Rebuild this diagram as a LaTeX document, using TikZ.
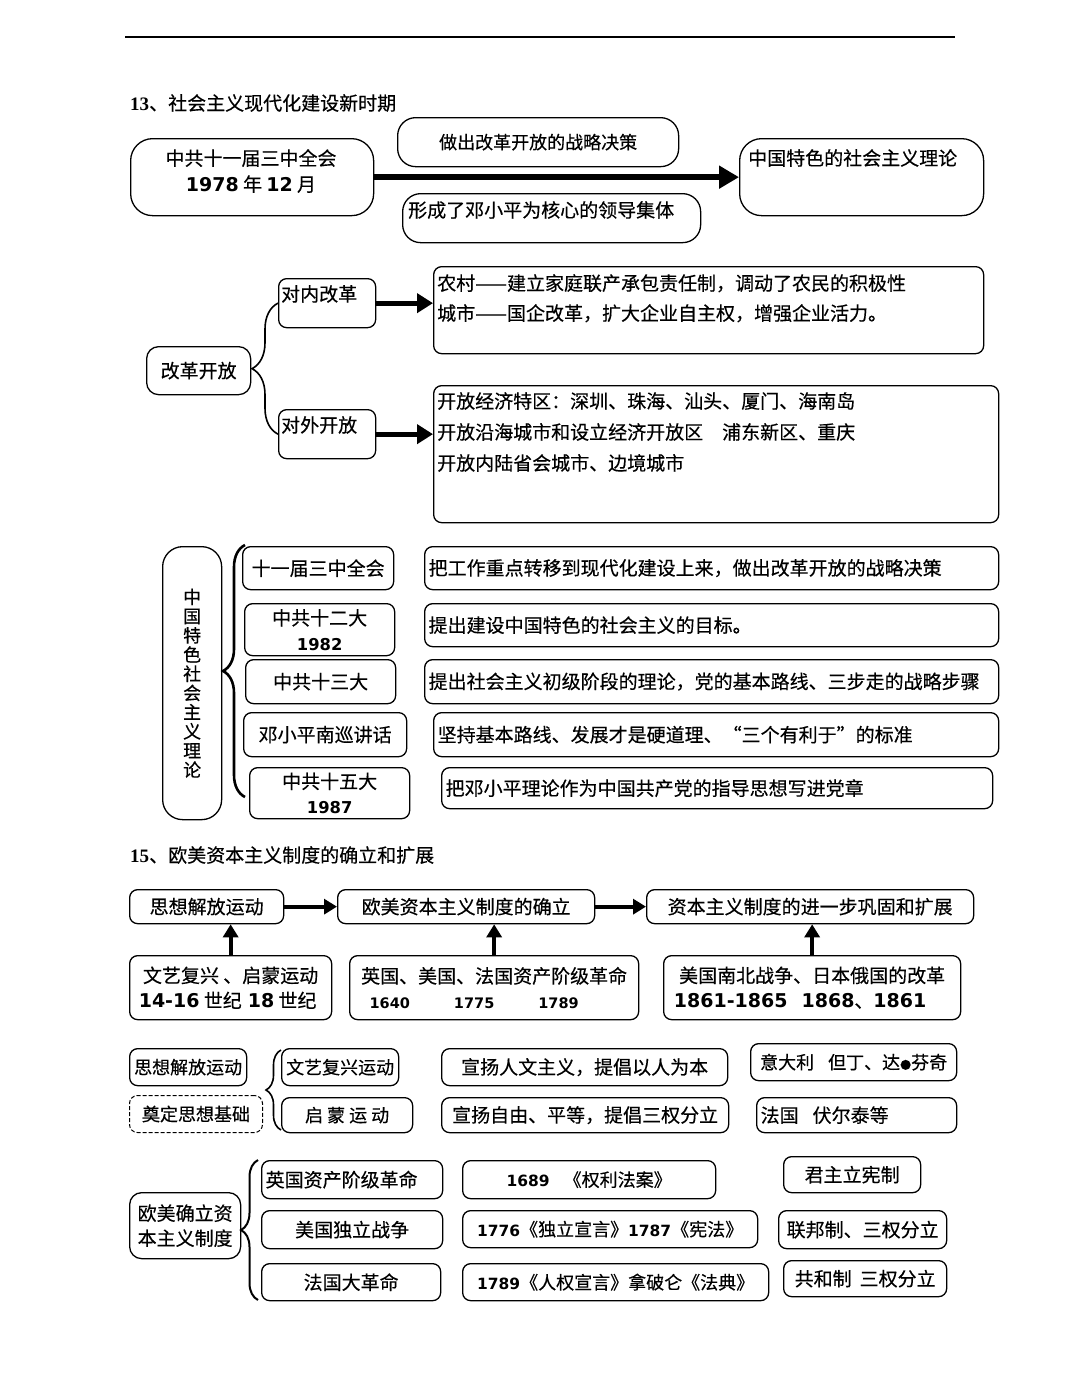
\documentclass[tikz,border=0pt]{standalone}
\usepackage{fontspec}
\setmainfont{Noto Sans CJK SC}[FakeBold=0.35]
\newfontfamily\numfont{DejaVu Sans}
\newfontfamily\numfonts{DejaVu Sans}[Scale=0.86]
\newfontfamily\serifnum{Liberation Serif}
\usetikzlibrary{arrows.meta,decorations.pathreplacing}

\newcommand\zh{\fontsize{19}{23}\selectfont}
\newcommand\zhs{\fontsize{18}{22}\selectfont}
\newcommand\nb[1]{{\numfont\bfseries #1}}
\newcommand\nbs[1]{{\numfonts\bfseries #1}}

\tikzset{
  card/.style={draw, line width=1.3pt, rounded corners=8pt, inner xsep=4pt, inner ysep=0pt,
    anchor=north west, font=\zh, align=center},
  sz/.style 2 args={minimum width=#1pt, minimum height=#2pt},
  lsz/.style 2 args={text width=#1pt, minimum height=#2pt, align=left},
  txt/.style={inner sep=0pt, anchor=north west, font=\zh, align=left},
  bigarr/.style={line width=6pt, -{Triangle[length=20pt,width=22pt]}},
  midarr/.style={line width=5pt, -{Triangle[length=16pt,width=19pt]}},
  smallarr/.style={line width=4pt, -{Triangle[length=13pt,width=15pt]}},
  curly/.style 2 args={decorate, decoration={brace, amplitude=#1pt}, line width=#2pt},
}

\begin{document}
\begin{tikzpicture}[x=1pt,y=-1pt]
  \useasboundingbox (0,0) rectangle (1080,1392);
  \fill[white] (0,0) rectangle (1080,1392);
  \draw[line width=1.2pt] (125,37) -- (955,37);

  % 13
  \node[txt] (t13) at (130,94) {{\serifnum\bfseries 13}、社会主义现代化建设新时期};
  \node[card, rounded corners=22pt, sz={243}{77}] (hy) at (130,138) {};
  \node[txt, anchor=north, align=center, font=\fontsize{19}{26}\selectfont] (hytxt) at (251,149) {中共十一届三中全会\\\nb{1978} 年 \nb{12} 月};
  \node[card, rounded corners=18pt, sz={281}{49}, font=\zhs] (jc) at (397,117) {做出改革开放的战略决策};
  \node[card, rounded corners=18pt, sz={298}{49}] (jt) at (402,193) {};
  \node[txt] (jttxt) at (408,201) {形成了邓小平为核心的领导集体};
  \node[card, rounded corners=22pt, sz={244}{77}] (ll) at (739,138) {};
  \node[txt] (lltxt) at (748,149) {中国特色的社会主义理论};
  \draw[bigarr] (hy.east) -- (ll.west);

  % reform and opening
  \node[card, rounded corners=12pt, sz={104}{48}] (gk) at (146,346) {改革开放};
  \node[card, sz={97}{49}] (dn) at (278,278) {};
  \node[txt] (dntxt) at (281,285) {对内改革};
  \node[card, sz={97}{49}] (dw) at (278,409) {};
  \node[txt] (dwtxt) at (281,416) {对外开放};
  \draw[curly={26}{1.6}] (dw.west) -- (dn.west);

  \node[card, sz={550}{87}] (bg1) at (433,266) {};
  \node[txt, font=\fontsize{19}{30}\selectfont] (bg1txt) at (437,274)
    {农村——建立家庭联产承包责任制，调动了农民的积极性\\城市——国企改革，扩大企业自主权，增强企业活力。};
  \node[card, sz={565}{137}] (bg2) at (433,385) {};
  \node[txt, font=\fontsize{19}{31}\selectfont] (bg2txt) at (437,392)
    {开放经济特区：深圳、珠海、汕头、厦门、海南岛\\开放沿海城市和设立经济开放区\quad 浦东新区、重庆\\开放内陆省会城市、边境城市};
  \draw[midarr] (dn.east) -- (dn.east -| bg1.west);
  \draw[midarr] (dw.east) -- (dw.east -| bg2.west);

  % theory
  \node[card, rounded corners=20pt, sz={59}{273}, font=\fontsize{18}{19.2}\selectfont] (vt) at (162,546)
    {中\\国\\特\\色\\社\\会\\主\\义\\理\\论};
  \coordinate (vttop) at (245,545);
  \coordinate (vtbot) at (245,797);
  \draw[curly={22}{2.6}] (vtbot) -- (vttop);

  \node[card, sz={151}{43}] (z1) at (242,546) {十一届三中全会};
  \node[card, sz={150}{52}, font=\fontsize{19}{25}\selectfont] (z2) at (244,603) {中共十二大\\{\numfonts\bfseries 1982}};
  \node[card, sz={150}{44}] (z3) at (245,659) {中共十三大};
  \node[card, sz={163}{44}] (z4) at (243,712) {邓小平南巡讲话};
  \node[card, sz={160}{51}, font=\fontsize{19}{25}\selectfont] (z5) at (249,767) {中共十五大\\{\numfonts\bfseries 1987}};

  \node[card, lsz={566}{43}] (r1) at (424,546) {把工作重点转移到现代化建设上来，做出改革开放的战略决策};
  \node[card, lsz={566}{43}] (r2) at (424,603) {提出建设中国特色的社会主义的目标。};
  \node[card, lsz={566}{44}] (r3) at (424,659) {提出社会主义初级阶段的理论，党的基本路线、三步走的战略步骤};
  \node[card, lsz={557}{44}] (r4) at (433,712) {坚持基本路线、发展才是硬道理、“三个有利于”的标准};
  \node[card, lsz={543}{41}] (r5) at (441,767) {把邓小平理论作为中国共产党的指导思想写进党章};

  % 15
  \node[txt] (t15) at (130,846) {{\serifnum\bfseries 15}、欧美资本主义制度的确立和扩展};
  \node[card, sz={154}{34}] (b1) at (129,889) {思想解放运动};
  \node[card, sz={257}{34}] (b2) at (337,889) {欧美资本主义制度的确立};
  \node[card, sz={327}{34}] (b3) at (646,889) {资本主义制度的进一步巩固和扩展};
  \draw[smallarr] (b1.east) -- (b2.west);
  \draw[smallarr] (b2.east) -- (b3.west);

  \node[card, sz={202}{64}, font=\fontsize{19}{25}\selectfont] (c1) at (129,955)
    {文艺复兴 、启蒙运动\\\nb{14-16} 世纪\hspace{6pt}\nb{18} 世纪\hspace*{6pt}};
  \node[card, sz={289}{64}, font=\fontsize{19}{25}\selectfont] (c2) at (349,955)
    {英国、美国、法国资产阶级革命\\{\fontsize{14.5}{20}\selectfont\nb{1640}\hspace{44pt}\nb{1775}\hspace{44pt}\nb{1789}\hspace*{40pt}}};
  \node[card, sz={297}{64}, font=\fontsize{19}{25}\selectfont] (c3) at (663,955)
    {美国南北战争、日本俄国的改革\\\nb{1861-1865}\hspace{14pt}\nb{1868}、\nb{1861}\hspace*{24pt}};
  \draw[smallarr] (c1.north) -- (c1.north |- b1.south);
  \draw[smallarr] (c2.north) -- (c2.north |- b2.south);
  \draw[smallarr] (c3.north) -- (c3.north |- b3.south);

  \node[card, sz={117}{37}, font=\zhs, inner xsep=2pt] (d1) at (129,1048) {思想解放运动};
  \node[card, sz={133}{37}, font=\zhs, line width=1pt, dash pattern=on 4pt off 2pt] (d2) at (129,1095) {奠定思想基础};
  \coordinate (dtop) at (281,1050);
  \coordinate (dbot) at (281,1130);
  \draw[curly={15}{1.6}] (dbot) -- (dtop);
  \node[card, sz={117}{37}, font=\zhs, inner xsep=2pt] (e1) at (281,1048) {文艺复兴运动};
  \node[card, sz={131}{35}, font=\zhs] (e2) at (281,1097) {启 蒙 运 动};
  \node[card, sz={286}{37}] (f1) at (441,1048) {宣扬人文主义，提倡以人为本};
  \node[card, sz={287}{35}] (f2) at (441,1097) {宣扬自由、平等，提倡三权分立};
  \node[card, sz={206}{37}, font=\zhs, inner xsep=3pt] (g1) at (750,1043)
    {意大利\hspace{14pt}但丁、达{\fontsize{11}{11}\selectfont ●}芬奇};
  \node[card, lsz={192}{35}] (g2) at (756,1097) {法国\hspace{14pt}伏尔泰等};

  % bottom
  \node[card, rounded corners=12pt, sz={111}{66}, font=\fontsize{19}{25}\selectfont] (h) at (129,1192) {欧美确立资\\本主义制度};
  \coordinate (htop) at (258,1160);
  \coordinate (hbot) at (258,1300);
  \draw[curly={17}{2}] (hbot) -- (htop);
  \node[card, lsz={173}{38}] (i1) at (261,1160) {英国资产阶级革命};
  \node[card, sz={181}{38}] (i2) at (261,1210) {美国独立战争};
  \node[card, sz={179}{37}] (i3) at (261,1263) {法国大革命};
  \node[card, sz={253}{38}, font=\zhs] (j1) at (462,1160) {\nbs{1689}\hspace{14pt}《权利法案》};
  \node[card, sz={295}{37}, font=\zhs] (j2) at (462,1210) {\nbs{1776}《独立宣言》\nbs{1787}《宪法》};
  \node[card, sz={306}{37}, font=\zhs] (j3) at (462,1263) {\nbs{1789}《人权宣言》拿破仑《法典》};
  \node[card, sz={137}{36}] (k1) at (783,1156) {君主立宪制};
  \node[card, sz={168}{38}, inner xsep=2pt] (k2) at (778,1210) {联邦制、三权分立};
  \node[card, sz={163}{36}] (k3) at (783,1260) {共和制\hspace{8pt}三权分立};
\end{tikzpicture}
\end{document}
